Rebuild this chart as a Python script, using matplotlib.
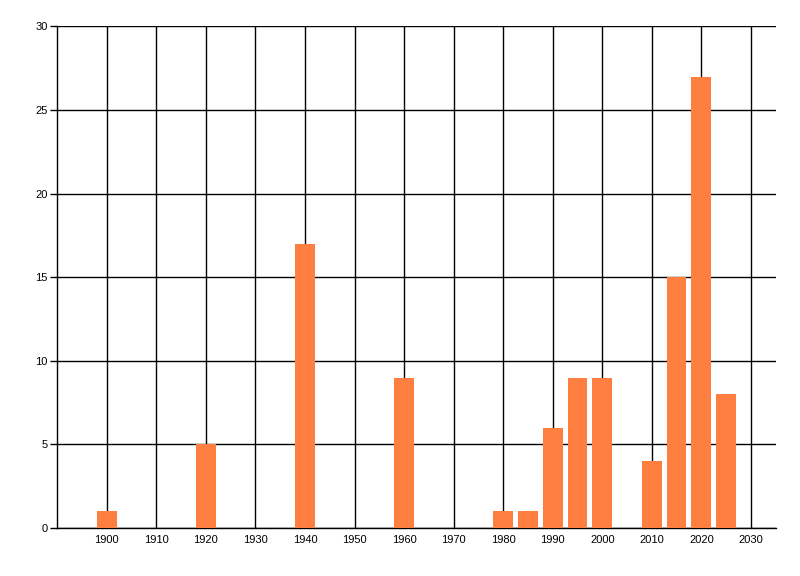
import matplotlib.pyplot as plt

# Data
years = [1900, 1920, 1940, 1960, 1980, 1985, 1990, 1995, 2000, 2010, 2015, 2020, 2025]
counts = [1, 5, 17, 9, 1, 1, 6, 9, 9, 4, 15, 27, 8]
x_ticks = list(range(1900, 2031, 10))
y_ticks = [0, 5, 10, 15, 20, 25, 30]

plt.rcParams['font.family'] = ['Liberation Sans', 'DejaVu Sans']

fig = plt.figure(figsize=(8, 5.76), dpi=100)
ax = fig.add_axes([0.0716, 0.0833, 0.8980, 0.8707])

ax.bar(years, counts, width=4, color="#ff7f40", zorder=3)

ax.set_xlim(1890, 2035)
ax.set_ylim(0, 30)
ax.set_xticks(x_ticks)
ax.set_yticks(y_ticks)
ax.grid(True, color="black", linewidth=1, zorder=0)
ax.set_axisbelow(True)

for side in ["top", "right"]:
    ax.spines[side].set_visible(False)
for side in ["left", "bottom"]:
    ax.spines[side].set_color("black")
    ax.spines[side].set_linewidth(1)

ax.tick_params(axis="x", length=0, pad=5, labelsize=8)
ax.tick_params(axis="y", length=5, width=1, pad=2, labelsize=8)

fig.savefig("out.png", dpi=100)
